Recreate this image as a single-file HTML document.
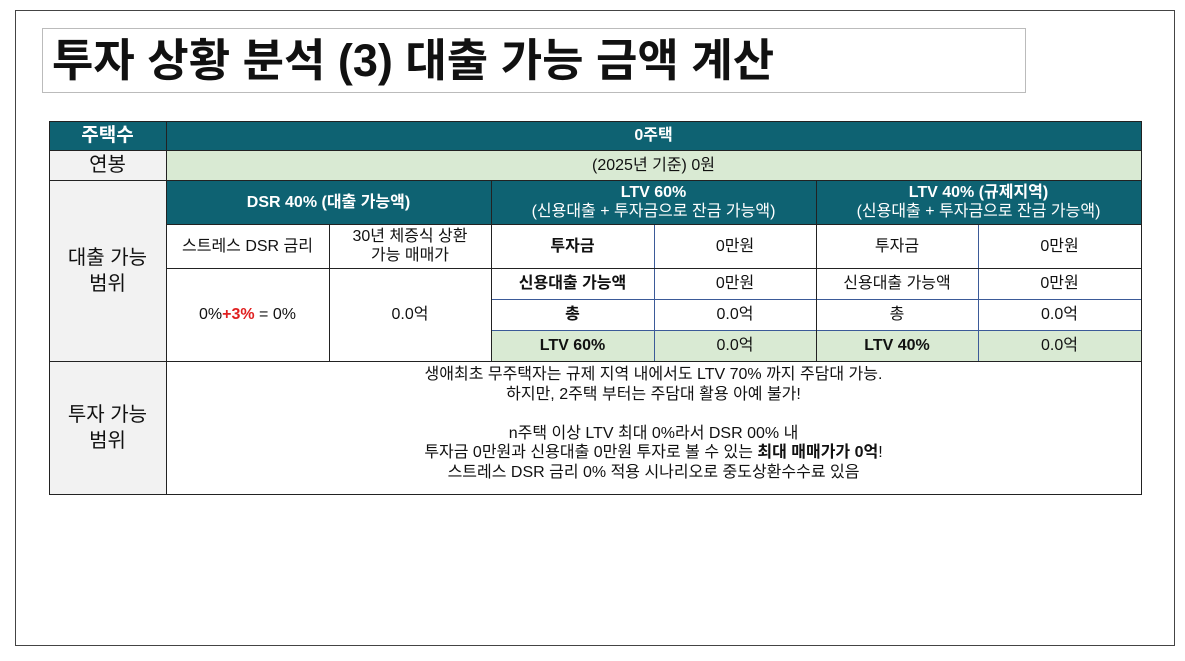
<!DOCTYPE html>
<html><head><meta charset="utf-8"><style>
body{margin:0;width:1185px;height:661px;background:#fff;position:relative;overflow:hidden;font-family:"Liberation Sans","Noto Sans CJK KR",sans-serif;}
.a{position:absolute;box-sizing:border-box;display:flex;align-items:center;justify-content:center;text-align:center;color:#111;font-size:16px;line-height:19px;}
.t{background:#0e6272;color:#fff;font-weight:bold;}
.g{background:#d9ead3;}
.l{background:#f2f2f2;font-size:20px;line-height:26px;}
.b{font-weight:bold;}
.hl{position:absolute;height:1px;background:#222;}
.vl{position:absolute;width:1px;background:#222;}
.bh{position:absolute;height:1px;background:#3b5a98;}
.bv{position:absolute;width:1px;background:#3b5a98;}
</style></head><body>
<div style="position:absolute;left:15px;top:10px;width:1160px;height:636px;border:1px solid #444;box-sizing:border-box"></div>
<div style="position:absolute;left:42px;top:28px;width:984px;height:65px;border:1px solid #bbb;box-sizing:border-box;font-size:45px;font-weight:bold;line-height:63px;padding-left:9px;color:#111;white-space:nowrap">투자 상황 분석 (3) 대출 가능 금액 계산</div>

<div class="a t" style="left:49px;top:121px;width:117px;height:29px;font-size:19px">주택수</div>
<div class="a t" style="left:166px;top:121px;width:975px;height:29px">0주택</div>
<div class="a l" style="left:49px;top:150px;width:117px;height:30px">연봉</div>
<div class="a g" style="left:166px;top:150px;width:975px;height:30px">(2025년 기준) 0원</div>
<div class="a l" style="left:49px;top:180px;width:117px;height:181px">대출 가능<br>범위</div>
<div class="a t" style="left:166px;top:180px;width:325px;height:44px">DSR 40% (대출 가능액)</div>
<div class="a t" style="left:491px;top:180px;width:325px;height:44px;font-weight:normal"><span><b>LTV 60%</b><br>(신용대출 + 투자금으로 잔금 가능액)</span></div>
<div class="a t" style="left:816px;top:180px;width:325px;height:44px;font-weight:normal"><span><b>LTV 40% (규제지역)</b><br>(신용대출 + 투자금으로 잔금 가능액)</span></div>
<div class="a" style="left:166px;top:224px;width:163px;height:44px">스트레스 DSR 금리</div>
<div class="a" style="left:329px;top:224px;width:162px;height:44px">30년 체증식 상환<br>가능 매매가</div>
<div class="a" style="left:166px;top:268px;width:163px;height:93px"><span>0%<span style="color:#e02020;font-weight:bold">+3%</span> = 0%</span></div>
<div class="a" style="left:329px;top:268px;width:162px;height:93px">0.0억</div>
<div class="a b" style="left:491px;top:224px;width:163px;height:44px">투자금</div>
<div class="a" style="left:654px;top:224px;width:162px;height:44px">0만원</div>
<div class="a" style="left:816px;top:224px;width:162px;height:44px">투자금</div>
<div class="a" style="left:978px;top:224px;width:163px;height:44px">0만원</div>
<div class="a b" style="left:491px;top:268px;width:163px;height:31px">신용대출 가능액</div>
<div class="a" style="left:654px;top:268px;width:162px;height:31px">0만원</div>
<div class="a" style="left:816px;top:268px;width:162px;height:31px">신용대출 가능액</div>
<div class="a" style="left:978px;top:268px;width:163px;height:31px">0만원</div>
<div class="a b" style="left:491px;top:299px;width:163px;height:31px">총</div>
<div class="a" style="left:654px;top:299px;width:162px;height:31px">0.0억</div>
<div class="a" style="left:816px;top:299px;width:162px;height:31px">총</div>
<div class="a" style="left:978px;top:299px;width:163px;height:31px">0.0억</div>
<div class="a g b" style="left:491px;top:330px;width:163px;height:31px">LTV 60%</div>
<div class="a g" style="left:654px;top:330px;width:162px;height:31px">0.0억</div>
<div class="a g b" style="left:816px;top:330px;width:162px;height:31px">LTV 40%</div>
<div class="a g" style="left:978px;top:330px;width:163px;height:31px">0.0억</div>
<div class="a l" style="left:49px;top:361px;width:117px;height:133px">투자 가능<br>범위</div>
<div style="position:absolute;left:166px;top:361px;width:975px;height:133px;text-align:center;font-size:16px;line-height:19.5px;padding-top:4px;box-sizing:border-box;color:#111">생애최초 무주택자는 규제 지역 내에서도 LTV 70% 까지 주담대 가능.<br>하지만, 2주택 부터는 주담대 활용 아예 불가!<br><br>n주택 이상 LTV 최대 0%라서 DSR 00% 내<br>투자금 0만원과 신용대출 0만원 투자로 볼 수 있는 <b>최대 매매가가 0억</b>!<br>스트레스 DSR 금리 0% 적용 시나리오로 중도상환수수료 있음</div>

<div class="bh" style="left:491px;top:299px;width:650px"></div>
<div class="bh" style="left:491px;top:330px;width:650px"></div>
<div class="bv" style="left:654px;top:224px;height:137px"></div>
<div class="bv" style="left:978px;top:224px;height:137px"></div>
<div class="hl" style="left:49px;top:121px;width:1092px"></div>
<div class="hl" style="left:49px;top:150px;width:1092px"></div>
<div class="hl" style="left:49px;top:180px;width:1092px"></div>
<div class="hl" style="left:166px;top:224px;width:975px"></div>
<div class="hl" style="left:166px;top:268px;width:975px"></div>
<div class="hl" style="left:49px;top:361px;width:1092px"></div>
<div class="hl" style="left:49px;top:494px;width:1093px"></div>
<div class="vl" style="left:49px;top:121px;height:373px"></div>
<div class="vl" style="left:166px;top:121px;height:373px"></div>
<div class="vl" style="left:1141px;top:121px;height:373px"></div>
<div class="vl" style="left:329px;top:224px;height:137px"></div>
<div class="vl" style="left:491px;top:180px;height:181px"></div>
<div class="vl" style="left:816px;top:180px;height:181px"></div>
</body></html>
